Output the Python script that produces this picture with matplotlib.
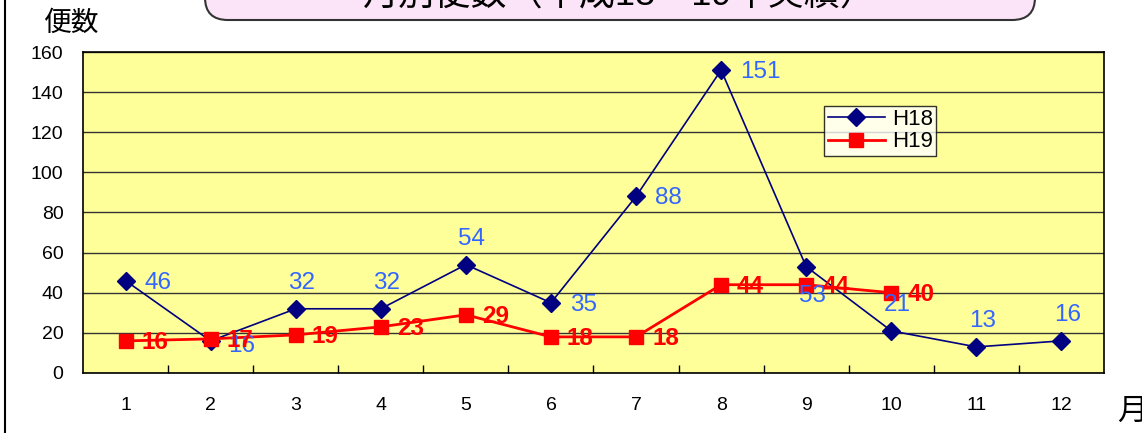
import matplotlib.pyplot as plt
from matplotlib.patches import FancyBboxPatch
import numpy as np

plt.rcParams['font.family'] = ['Liberation Sans', 'Noto Sans CJK JP', 'DejaVu Sans']

months = [1, 2, 3, 4, 5, 6, 7, 8, 9, 10, 11, 12]
h18 = [46, 16, 32, 32, 54, 35, 88, 151, 53, 21, 13, 16]
h19 = [16, 17, 19, 23, 29, 18, 18, 44, 44, 40]
h18_label_pos = ['r', 'br', 't', 't', 't', 'r', 'r', 'r', 'b', 't', 't', 't']

fig = plt.figure(figsize=(11.42, 4.33), dpi=100)
ax = fig.add_axes([0.0727, 0.1386, 0.894, 0.7413])
ax.set_facecolor('#FFFF99')

ax.plot(months, h18, color='#000080', lw=1.2, marker='D', ms=9, label='H18', zorder=3)
ax.plot(months[:len(h19)], h19, color='red', lw=2, marker='s', ms=10, label='H19', zorder=3)

# data labels (pixel offsets)
offs = {'r': (19, -2, 'left'), 'br': (17, -5, 'left'), 't': (6, 26, 'center'), 'b': (6, -29, 'center')}
for m, v, p in zip(months, h18, h18_label_pos):
    dx, dy, ha = offs[p]
    ax.annotate(str(v), (m, v), xytext=(dx, dy), textcoords='offset pixels',
                ha=ha, va='center', color='#3366FF', fontsize=17.5, zorder=4)
for m, v in zip(months, h19):
    ax.annotate(str(v), (m, v), xytext=(16, -2), textcoords='offset pixels',
                ha='left', va='center', color='red', fontsize=17.5, fontweight='bold', zorder=4)

ax.set_xlim(0.5, 12.5)
ax.set_ylim(0, 160)
ax.set_yticks(range(0, 161, 20))
ax.set_xticks(months)
ax.set_xticks(np.arange(1.5, 12.5, 1), minor=True)
ax.tick_params(axis='y', length=0, pad=14, labelsize=14)
ax.tick_params(axis='x', which='major', length=0, pad=17, labelsize=14)
ax.tick_params(axis='x', which='minor', direction='in', length=6, width=1)
ax.yaxis.grid(True, color='#333333', lw=1)
ax.set_axisbelow(True)
for s in ax.spines.values():
    s.set_linewidth(1.2)

leg = ax.legend(loc='upper left', bbox_to_anchor=(0.726, 0.832), fontsize=16, frameon=True,
                fancybox=False, edgecolor='black', borderpad=0.15, handlelength=2.6,
                labelspacing=0.05, handletextpad=0.3, borderaxespad=0)
leg.get_frame().set_linewidth(1)

# cut-off title box at the top
box = FancyBboxPatch((205 / 1142, 1 - 20 / 433), 830 / 1142, 0.2,
                     boxstyle='round,pad=0,rounding_size=0.02', transform=fig.transFigure,
                     facecolor='#FCE4F8', edgecolor='#333333', lw=1.5, mutation_aspect=2.6)
fig.patches.append(box)
fig.text(620 / 1142, 1 + 4 / 433, '月別便数（平成18～19年実績）', ha='center', va='center',
         fontsize=26)

fig.text(72 / 1142, 1 - 24 / 433, '便数', ha='center', va='center', fontsize=20)
fig.text(1132 / 1142, 1 - 412 / 433, '月', ha='center', va='center', fontsize=22)

fig.add_artist(plt.Line2D([5 / 1142, 5 / 1142], [0, 1], transform=fig.transFigure, color='black', lw=1.5))

fig.savefig('out.png', dpi=100)
